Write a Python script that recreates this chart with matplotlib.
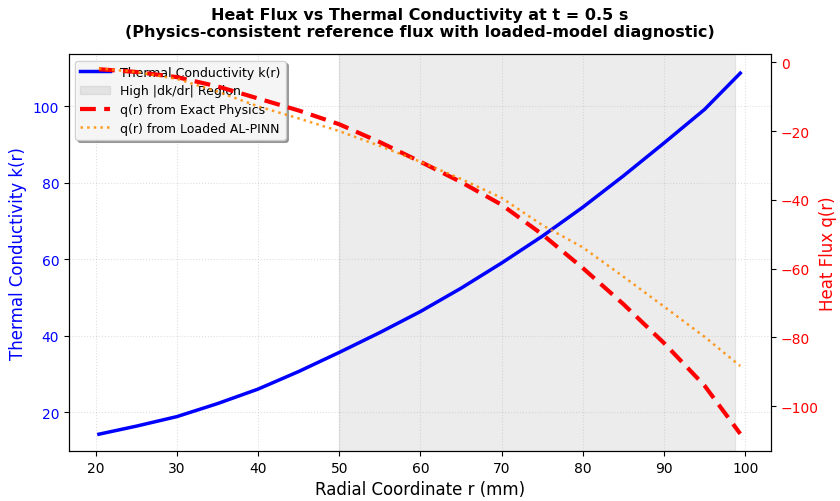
import matplotlib
matplotlib.use("Agg")
import matplotlib.pyplot as plt
import numpy as np

r_mm = [20.4, 25, 30, 35, 40, 45, 50, 55, 60, 65, 70, 75, 80, 85, 90, 95, 99.4]
k_vals = [14.2, 16.3, 18.8, 22.2, 26.0, 30.6, 35.6, 40.8, 46.3, 52.4, 59.0, 66.0, 73.6, 81.8, 90.4, 99.2, 108.7]
q_exact = [-2.0, -2.8, -4.3, -7.0, -10.5, -14.0, -18.0, -23.2, -28.9, -34.8, -41.4, -50.0, -59.8, -70.3, -81.6, -94.0, -108.0]
q_pinn = [-1.8, -2.8, -4.8, -8.5, -12.8, -16.3, -20.0, -24.3, -28.9, -33.9, -39.4, -47.3, -53.8, -62.3, -71.0, -79.8, -88.3]
region = [50, 98.8]

fig = plt.figure(figsize=(8.4, 5.02), dpi=100)
ax1 = fig.add_axes([0.082, 0.0996, 0.836, 0.79])
ax2 = ax1.twinx()

l1, = ax1.plot(r_mm, k_vals, color='blue', lw=2.5, label='Thermal Conductivity k(r)')
sp = ax1.axvspan(region[0], region[1], color='gray', alpha=0.15, label='High |dk/dr| Region')
l2, = ax2.plot(r_mm, q_exact, color='red', lw=3, ls=(0, (3.8, 2.0)), label='q(r) from Exact Physics')
l3, = ax2.plot(r_mm, q_pinn, color='darkorange', lw=1.8, ls=':', label='q(r) from Loaded AL-PINN', alpha=0.85)

ax1.set_xlim(16.7, 103.2)
ax1.set_ylim(9.8, 113.6)
ax2.set_ylim(-113, 2.3)
ax1.set_xticks([20, 30, 40, 50, 60, 70, 80, 90, 100])
ax1.set_yticks([20, 40, 60, 80, 100])
ax2.set_yticks([0, -20, -40, -60, -80, -100])

ax1.set_xlabel('Radial Coordinate r (mm)', fontsize=12)
ax1.set_ylabel('Thermal Conductivity k(r)', color='blue', fontsize=12)
ax2.set_ylabel('Heat Flux q(r)', color='red', fontsize=12, labelpad=0)
ax1.tick_params(axis='y', labelcolor='blue', labelsize=10)
ax2.tick_params(axis='y', labelcolor='red', labelsize=10)
ax1.tick_params(axis='x', labelsize=10)
ax1.grid(True, ls=':', alpha=0.4)

ax1.legend([l1, sp, l2, l3], [h.get_label() for h in [l1, sp, l2, l3]],
           loc='upper left', fontsize=9, shadow=True, framealpha=0.9,
           borderpad=0.4, labelspacing=0.45, handlelength=2.4)

fig.suptitle('Heat Flux vs Thermal Conductivity at t = 0.5 s\n(Physics-consistent reference flux with loaded-model diagnostic)',
             fontsize=11.5, fontweight='bold', y=0.985)

fig.savefig('out.png', dpi=100)
